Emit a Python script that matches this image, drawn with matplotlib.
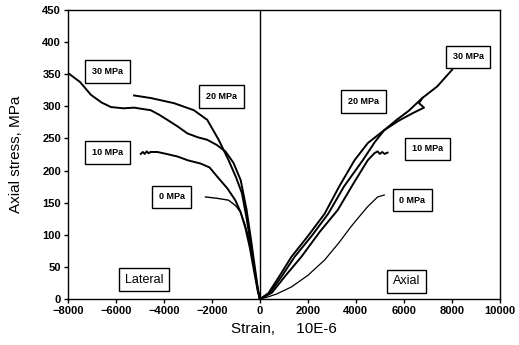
import matplotlib
matplotlib.use("Agg")
import matplotlib.pyplot as plt

plt.rcParams['font.family'] = ['Liberation Sans', 'DejaVu Sans']

# lateral strain curves (negative strain), strain 10E-6 / stress MPa
lat30_x = [-8000, -7500, -7045, -6600, -6214, -5700, -5245, -4551, -4200, -3857, -3400,
           -3026, -2600, -2195, -1800, -1440, -1100, -800, -560, -380, -220, -80, 0]
lat30_y = [352, 338, 318, 306, 299, 297, 298, 294, 287, 279, 268,
           258, 252, 248, 240, 230, 212, 185, 140, 95, 52, 15, 0]

lat20_x = [-5245, -4551, -3582, -2751, -2195, -1718, -1304, -1000, -750, -550, -380, -220, -80, 0]
lat20_y = [317, 313, 305, 294, 279, 248, 216, 190, 165, 125, 85, 45, 12, 0]

lat10_x = [-4967, -4880, -4800, -4720, -4640, -4560, -4273, -3900, -3441, -3000, -2473,
           -2100, -1718, -1350, -1027, -800, -600, -420, -250, -100, 0]
lat10_y = [226, 229, 226, 230, 227, 229, 229, 226, 222, 216, 211,
           205, 188, 172, 154, 135, 110, 80, 45, 15, 0]

lat0_x = [-2269, -1800, -1304, -1000, -820, -640, -476, -300, -132, 0]
lat0_y = [159, 157, 154, 145, 136, 118, 97, 62, 24, 0]

# axial strain curves
ax30_x = [0, 350, 800, 1317, 2000, 2700, 3300, 3942, 4500, 5184, 5700, 6200, 6770, 7391, 8012]
ax30_y = [0, 9, 35, 66, 98, 133, 175, 216, 243, 263, 279, 293, 313, 331, 357]

ax20_x = [0, 400, 900, 1450, 2150, 2850, 3500, 4286, 4800, 5184, 5800, 6400, 6840, 6633, 6770]
ax20_y = [0, 9, 35, 66, 98, 133, 175, 216, 245, 263, 278, 290, 298, 305, 313]

ax10_x = [0, 500, 1100, 1731, 2500, 3250, 3900, 4493, 4770, 4907, 5000, 5100, 5200, 5321]
ax10_y = [0, 10, 38, 66, 105, 139, 180, 216, 227, 230, 226, 229, 226, 228]

ax0_x = [0, 300, 700, 1317, 2000, 2700, 3300, 3801, 4200, 4493, 4907, 5184]
ax0_y = [0, 3, 8, 19, 37, 61, 88, 113, 131, 144, 159, 162]

# box labels: text, x, y
labels = [("30 MPa", -6356, 354), ("20 MPa", -1594, 315), ("10 MPa", -6356, 228),
          ("0 MPa", -3685, 159), ("30 MPa", 8675, 377), ("20 MPa", 4327, 308),
          ("10 MPa", 6977, 234), ("0 MPa", 6356, 154)]
regions = [("Lateral", -4824, 30), ("Axial", 6108, 28)]

xticks = [-8000, -6000, -4000, -2000, 0, 2000, 4000, 6000, 8000, 10000]
yticks = [0, 50, 100, 150, 200, 250, 300, 350, 400, 450]

fig = plt.figure(figsize=(5.19, 3.45), dpi=100)
ax = fig.add_axes([0.131, 0.133, 0.832, 0.838])

for xs, ys in [(lat30_x, lat30_y), (lat20_x, lat20_y), (lat10_x, lat10_y),
               (ax30_x, ax30_y), (ax20_x, ax20_y), (ax10_x, ax10_y)]:
    ax.plot(xs, ys, color='black', lw=1.4)
ax.plot(lat0_x, lat0_y, color='black', lw=1.0)
ax.plot(ax0_x, ax0_y, color='black', lw=0.9)

ax.axvline(0, color='black', lw=1.0)

for txt, x, y in labels:
    ax.text(x, y, txt, fontsize=6.5, fontweight='bold', ha='center', va='center',
            bbox=dict(boxstyle='square,pad=0.75', fc='white', ec='black', lw=1.0))
for txt, x, y in regions:
    ax.text(x, y, txt, fontsize=9, ha='center', va='center',
            bbox=dict(boxstyle='square,pad=0.45', fc='white', ec='black', lw=1.0))

ax.set_xlim(-8000, 10000)
ax.set_ylim(0, 450)
ax.set_xticks(xticks)
ax.set_yticks(yticks)
ax.tick_params(direction='out', length=3, width=1, labelsize=8, pad=2)
for lab in ax.get_xticklabels() + ax.get_yticklabels():
    lab.set_fontweight('bold')
for s in ax.spines.values():
    s.set_linewidth(1.0)

ax.set_xlabel("Strain,     10E-6", fontsize=11, labelpad=4)
ax.set_ylabel("Axial stress, MPa", fontsize=11, labelpad=14)

fig.savefig("out.png", dpi=100)
